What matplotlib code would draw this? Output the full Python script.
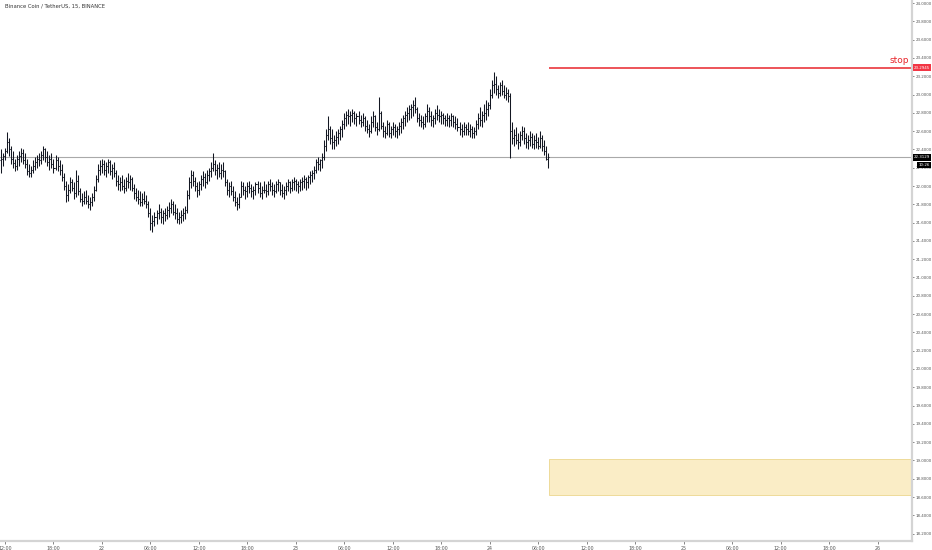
import matplotlib
matplotlib.use("Agg")
import matplotlib.pyplot as plt
import matplotlib.transforms as mtransforms
from matplotlib.patches import Rectangle

# === données : barres 15 min BNB/USDT (du 21 11:30 au 24 07:15) ===
first_open = 22.28

highs = [
    22.40, 22.36, 22.42, 22.59, 22.52, 22.44,
    22.38, 22.30, 22.34, 22.38, 22.42, 22.40, 22.36, 22.30, 22.24, 22.22, 22.28, 22.32,
    22.34, 22.36, 22.38, 22.44, 22.42, 22.38, 22.34, 22.36, 22.30, 22.34, 22.32, 22.28,
    22.24, 22.14, 22.06, 22.02, 22.10, 22.08, 22.04, 22.17, 22.12, 21.98, 21.92, 21.94,
    21.96, 21.90, 21.88, 21.92,
    22.00, 22.12, 22.24, 22.28, 22.30, 22.28, 22.26, 22.30, 22.28, 22.24, 22.26,
    22.18, 22.12, 22.10, 22.12, 22.08, 22.10, 22.14, 22.12, 22.10,
    22.02, 21.98, 21.96, 21.94, 21.92, 21.94, 21.90, 21.84, 21.76, 21.68,
    21.72, 21.74, 21.80, 21.76, 21.74, 21.76, 21.78, 21.82, 21.86, 21.84, 21.80, 21.76,
    21.72, 21.74, 21.76, 21.78,
    21.96, 22.10, 22.18,
    22.16, 22.10, 22.04, 22.06, 22.12, 22.16, 22.14, 22.18, 22.20,
    22.26, 22.36,
    22.28, 22.24, 22.26, 22.24, 22.26,
    22.18, 22.08, 22.04, 22.06, 22.00, 21.94, 21.88, 21.92,
    22.06, 22.04, 22.00, 22.04, 22.06, 22.02, 22.00, 22.04, 22.06, 22.04, 22.00,
    22.06, 22.02, 22.06, 22.08, 22.04, 22.02, 22.06, 22.08, 22.04, 22.02, 22.00, 22.04,
    22.08, 22.06, 22.08, 22.10, 22.08, 22.06, 22.08, 22.10, 22.12, 22.10, 22.12, 22.16,
    22.18,
    22.22, 22.30, 22.32, 22.30, 22.36,
    22.50, 22.62, 22.77,
    22.66, 22.62, 22.56, 22.60, 22.62, 22.66, 22.72,
    22.80, 22.82, 22.84, 22.82, 22.84, 22.82, 22.80, 22.82, 22.78, 22.80,
    22.76, 22.72, 22.68, 22.76, 22.82, 22.78, 22.70,
    22.97,
    22.82, 22.70, 22.66, 22.72, 22.70, 22.66, 22.70, 22.68, 22.66, 22.70, 22.74,
    22.78, 22.82, 22.86, 22.88, 22.90, 22.94, 22.97,
    22.86, 22.80, 22.78, 22.76, 22.80,
    22.90, 22.86, 22.82, 22.78, 22.84, 22.88, 22.84, 22.82, 22.80, 22.78, 22.80,
    22.78, 22.80, 22.78, 22.76, 22.74,
    22.70, 22.68, 22.70, 22.68, 22.70, 22.68, 22.66, 22.64,
    22.72, 22.80, 22.86, 22.82, 22.90, 22.94, 22.92,
    23.06, 23.16, 23.25,
    23.20, 23.10, 23.14, 23.16, 23.10, 23.08, 23.06,
    23.02,
    22.70, 22.62, 22.64, 22.58, 22.60, 22.66, 22.64, 22.58, 22.56, 22.60, 22.58, 22.56,
    22.58, 22.54, 22.60, 22.56, 22.50, 22.44, 22.36,
]

lows = [
    22.14, 22.22, 22.28, 22.36, 22.33, 22.24,
    22.20, 22.16, 22.18, 22.22, 22.26, 22.24, 22.20, 22.12, 22.10, 22.10, 22.14, 22.18,
    22.20, 22.22, 22.24, 22.28, 22.26, 22.22, 22.18, 22.20, 22.14, 22.18, 22.16, 22.12,
    22.06, 21.96, 21.82, 21.84, 21.92, 21.94, 21.86, 21.88, 21.90, 21.82, 21.78, 21.80,
    21.80, 21.76, 21.74, 21.78,
    21.84, 21.94, 22.04, 22.12, 22.14, 22.12, 22.10, 22.14, 22.12, 22.08, 22.10,
    22.00, 21.96, 21.94, 21.96, 21.92, 21.94, 21.98, 21.96, 21.94,
    21.86, 21.84, 21.80, 21.78, 21.78, 21.80, 21.76, 21.66, 21.52, 21.50,
    21.56, 21.58, 21.64, 21.60, 21.58, 21.62, 21.64, 21.66, 21.70, 21.68, 21.64, 21.60,
    21.58, 21.60, 21.62, 21.64,
    21.70, 21.86, 21.98,
    22.00, 21.94, 21.88, 21.90, 21.96, 22.00, 21.98, 22.02, 22.06,
    22.10, 22.16,
    22.12, 22.08, 22.10, 22.08, 22.10,
    22.00, 21.90, 21.88, 21.90, 21.84, 21.78, 21.74, 21.76,
    21.88, 21.90, 21.86, 21.88, 21.92, 21.88, 21.86, 21.90, 21.92, 21.88, 21.86,
    21.92, 21.88, 21.90, 21.94, 21.90, 21.88, 21.92, 21.94, 21.90, 21.88, 21.86, 21.90,
    21.94, 21.92, 21.94, 21.96, 21.94, 21.92, 21.94, 21.96, 21.98, 21.96, 21.98, 22.02,
    22.04,
    22.08, 22.14, 22.18, 22.16, 22.20,
    22.28, 22.38, 22.50,
    22.46, 22.40, 22.40, 22.44, 22.46, 22.50, 22.54,
    22.62, 22.66, 22.68, 22.66, 22.70, 22.68, 22.66, 22.68, 22.64, 22.66,
    22.60, 22.58, 22.54, 22.58, 22.64, 22.60, 22.56,
    22.60,
    22.62, 22.54, 22.52, 22.56, 22.54, 22.52, 22.56, 22.54, 22.52, 22.56, 22.58,
    22.62, 22.66, 22.70, 22.72, 22.74, 22.76, 22.80,
    22.70, 22.66, 22.64, 22.62, 22.64,
    22.70, 22.70, 22.66, 22.64, 22.68, 22.72, 22.70, 22.68, 22.68, 22.66, 22.66,
    22.64, 22.66, 22.64, 22.62, 22.60,
    22.56, 22.54, 22.56, 22.56, 22.56, 22.54, 22.52, 22.52,
    22.56, 22.62, 22.66, 22.64, 22.70, 22.72, 22.76,
    22.84, 22.96, 23.02,
    23.00, 22.96, 22.98, 23.00, 22.96, 22.94, 22.92,
    22.31,
    22.46, 22.44, 22.46, 22.40, 22.44, 22.50, 22.46, 22.42, 22.40, 22.44, 22.42, 22.40,
    22.42, 22.40, 22.42, 22.38, 22.34, 22.28, 22.20,
]

closes = [
    22.30, 22.33, 22.38, 22.48, 22.40, 22.30,
    22.25, 22.22, 22.30, 22.33, 22.36, 22.28, 22.24, 22.16, 22.14, 22.18, 22.22, 22.26,
    22.30, 22.28, 22.34, 22.40, 22.32, 22.26, 22.30, 22.24, 22.20, 22.28, 22.22, 22.18,
    22.10, 22.00, 21.90, 21.96, 22.04, 21.98, 21.92, 22.06, 21.94, 21.86, 21.84, 21.88,
    21.84, 21.80, 21.82, 21.88,
    21.96, 22.08, 22.18, 22.22, 22.24, 22.18, 22.22, 22.26, 22.16, 22.20, 22.14,
    22.06, 22.02, 22.04, 22.00, 21.98, 22.06, 22.04, 22.08, 21.98,
    21.92, 21.88, 21.86, 21.82, 21.86, 21.84, 21.80, 21.70, 21.60, 21.62,
    21.66, 21.70, 21.72, 21.66, 21.70, 21.68, 21.74, 21.76, 21.80, 21.72, 21.70, 21.64,
    21.66, 21.68, 21.70, 21.74,
    21.90, 22.04, 22.12,
    22.06, 22.00, 21.96, 22.02, 22.08, 22.10, 22.04, 22.12, 22.16,
    22.20, 22.24,
    22.18, 22.20, 22.14, 22.18, 22.16,
    22.04, 21.96, 22.00, 21.94, 21.88, 21.82, 21.80, 21.88,
    22.00, 21.96, 21.94, 22.00, 21.98, 21.94, 21.96, 22.02, 21.98, 21.92, 21.96,
    21.96, 21.94, 22.02, 22.00, 21.96, 21.94, 22.02, 22.04, 21.96, 21.92, 21.96, 22.00,
    22.04, 21.98, 22.04, 22.06, 22.02, 22.00, 22.04, 22.06, 22.08, 22.04, 22.10, 22.12,
    22.14,
    22.18, 22.26, 22.24, 22.28, 22.32,
    22.44, 22.56, 22.62,
    22.52, 22.48, 22.50, 22.54, 22.58, 22.62, 22.68,
    22.74, 22.78, 22.76, 22.78, 22.80, 22.74, 22.76, 22.72, 22.70, 22.74,
    22.66, 22.62, 22.60, 22.70, 22.76, 22.64, 22.62,
    22.80,
    22.66, 22.60, 22.58, 22.68, 22.58, 22.62, 22.64, 22.60, 22.62, 22.66, 22.70,
    22.74, 22.78, 22.80, 22.84, 22.86, 22.88, 22.84,
    22.74, 22.72, 22.70, 22.68, 22.76,
    22.82, 22.76, 22.72, 22.74, 22.80, 22.78, 22.76, 22.78, 22.74, 22.72, 22.74,
    22.72, 22.76, 22.70, 22.68, 22.64,
    22.62, 22.60, 22.64, 22.62, 22.60, 22.62, 22.58, 22.60,
    22.68, 22.74, 22.72, 22.78, 22.80, 22.84, 22.88,
    23.00, 23.10, 23.12,
    23.06, 23.02, 23.10, 23.04, 23.00, 23.02, 22.98,
    22.60,
    22.52, 22.56, 22.50, 22.48, 22.56, 22.60, 22.52, 22.48, 22.50, 22.54, 22.46, 22.50,
    22.48, 22.44, 22.52, 22.44, 22.38, 22.30, 22.3129,
]

last_price = 22.3129
stop_price = 23.2945
zone_top = 19.02
zone_bottom = 18.62
countdown = "10:26"
title = "Binance Coin / TetherUS, 15, BINANCE"

# graduations de l'axe du temps : une toutes les 6 heures (24 barres)
xtick_labels = ["12:00", "18:00", "22", "06:00", "12:00", "18:00", "23", "06:00",
                "12:00", "18:00", "24", "06:00", "12:00", "18:00", "25", "06:00",
                "12:00", "18:00", "26"]
first_tick_bar = 2
bars_per_tick = 24

# === figure ===
fig = plt.figure(figsize=(9.32, 5.5), dpi=100)
ax = fig.add_axes([0, 9 / 550, 912 / 932, 541 / 550])

n = len(closes)
xs = list(range(n))
opens = [first_open] + closes[:-1]

bar_col = "#131722"
ax.vlines(xs, lows, highs, color=bar_col, lw=0.75)
ax.hlines(opens, [x - 0.5 for x in xs], xs, color=bar_col, lw=0.75)
ax.hlines(closes, xs, [x + 0.5 for x in xs], color=bar_col, lw=0.75)

# ligne du dernier prix
ax.axhline(last_price, color="#a9a9a9", lw=0.8, zorder=0)

tr = mtransforms.blended_transform_factory(ax.transAxes, ax.transData)

# stop
x_start = n - 0.5
ax.hlines(stop_price, x_start, 452, color="#e8252b", lw=1.1)
ax.text(0.997, stop_price + 0.03, "stop", color="#e8252b", fontsize=6.5,
        ha="right", va="bottom", transform=tr)

# zone jaune
ax.add_patch(Rectangle((x_start, zone_bottom), 452 - x_start, zone_top - zone_bottom,
                       facecolor="#faedc6", edgecolor="#ecd68e", lw=0.6, zorder=0))

ax.set_xlim(-0.48, 451)
ax.set_ylim(18.12, 24.033)

# axe des prix à droite
yt = [round(18.2 + 0.2 * k, 1) for k in range(30)]
ax.yaxis.tick_right()
ax.set_yticks(yt)
ax.set_yticklabels([f"{v:.4f}" for v in yt])
ax.tick_params(axis="y", labelsize=2.9, colors="#555555", length=1.5, width=0.5, pad=1)

tick_pos = [first_tick_bar + bars_per_tick * k for k in range(len(xtick_labels))]
ax.set_xticks(tick_pos)
ax.set_xticklabels(xtick_labels)
ax.tick_params(axis="x", labelsize=3.4, colors="#555555", length=2, width=0.5, pad=1.5)

for s in ["top", "left"]:
    ax.spines[s].set_visible(False)
for s in ["right", "bottom"]:
    ax.spines[s].set_color("#d4d4d4")
    ax.spines[s].set_linewidth(1.6)

# étiquettes sur l'axe des prix
ax.text(1.002, stop_price, f"{stop_price:.4f}", transform=tr, fontsize=2.9, color="white",
        ha="left", va="center", clip_on=False,
        bbox=dict(boxstyle="square,pad=0.3", fc="#f23645", ec="none"))
ax.text(1.002, last_price, f"{last_price:.4f}", transform=tr, fontsize=2.9, color="white",
        ha="left", va="center", clip_on=False,
        bbox=dict(boxstyle="square,pad=0.3", fc="#000000", ec="none"))
ax.text(1.007, last_price - 0.085, countdown, transform=tr, fontsize=2.9, color="white",
        ha="left", va="center", clip_on=False,
        bbox=dict(boxstyle="square,pad=0.3", fc="#000000", ec="none"))

fig.text(5 / 932, 1 - 6 / 550, title, fontsize=3.8, color="#333333", ha="left", va="center")

fig.savefig("out.png", dpi=100)
